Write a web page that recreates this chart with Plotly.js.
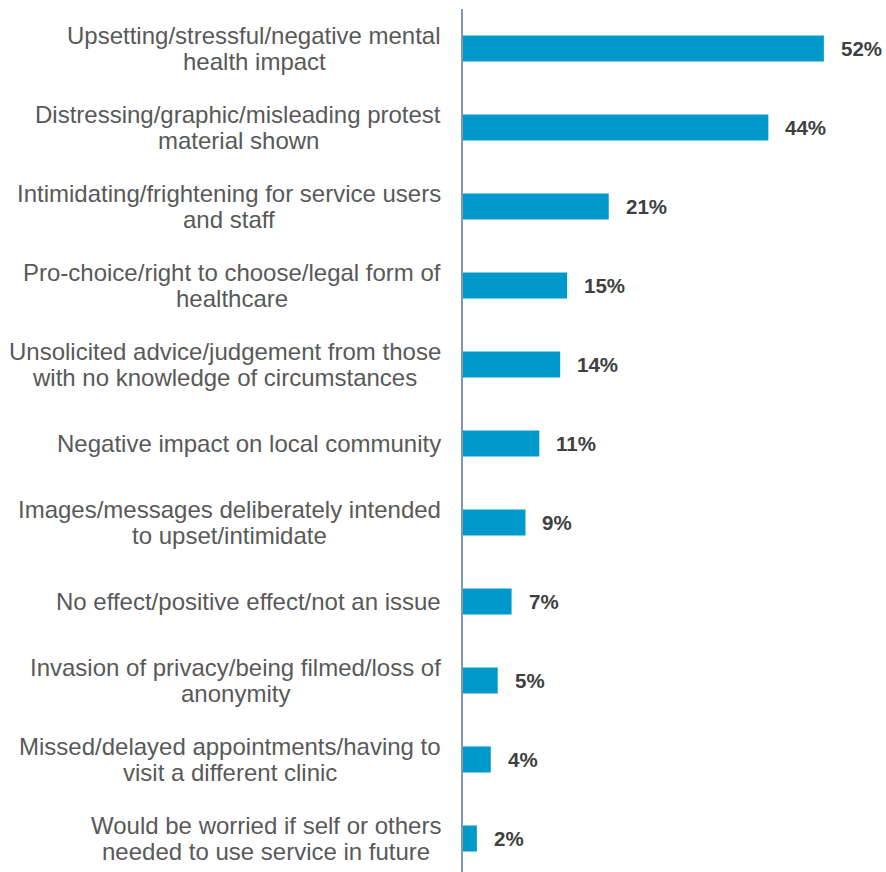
<!DOCTYPE html>
<html>
<head>
<meta charset="utf-8">
<script src="https://cdn.plot.ly/plotly-3.0.1.min.js"></script>
<style>html,body{margin:0;padding:0;background:#fff;}#chart{width:886px;height:872px;}</style>
</head>
<body>
<div id="chart"></div>
<script>
const categories = [
  "Upsetting/stressful/negative mental<br>health impact",
  "Distressing/graphic/misleading protest<br>material shown",
  "Intimidating/frightening for service users<br>and staff",
  "Pro-choice/right to choose/legal form of<br>healthcare",
  "Unsolicited advice/judgement from those<br>with no knowledge of circumstances",
  "Negative impact on local community",
  "Images/messages deliberately intended<br>to upset/intimidate",
  "No effect/positive effect/not an issue",
  "Invasion of privacy/being filmed/loss of<br>anonymity",
  "Missed/delayed appointments/having to<br>visit a different clinic",
  "Would be worried if self or others<br>needed to use service in future"
];
const values = [52, 44, 21, 15, 14, 11, 9, 7, 5, 4, 2];
const valueLabels = values.map(v => v + "%");

const FONT = "Liberation Sans, Arial, sans-serif";
const LABEL_SIZE = 24;
const LINE_GAP = 26;

const ctx = document.createElement("canvas").getContext("2d");
ctx.font = LABEL_SIZE + "px 'Liberation Sans', Arial, sans-serif";

const trace = {
  type: "bar",
  orientation: "h",
  x: values,
  y: categories,
  marker: {color: "#0099CC"},
  width: 0.33,
  hoverinfo: "none"
};

const annotations = [];
categories.forEach((c, i) => {
  const lines = c.split("<br>");
  const maxW = Math.max(...lines.map(l => ctx.measureText(l).width));
  lines.forEach((ln, k) => {
    annotations.push({
      xref: "paper", yref: "y", x: 0, y: c,
      text: ln, showarrow: false, xanchor: "center", yanchor: "middle",
      xshift: -22 - maxW / 2,
      yshift: ((lines.length - 1) / 2 - k) * LINE_GAP,
      font: {family: FONT, size: LABEL_SIZE, color: "#595959"}
    });
  });
  annotations.push({
    xref: "x", yref: "y", x: values[i], y: c,
    text: "<b>" + valueLabels[i] + "</b>", showarrow: false,
    xanchor: "left", yanchor: "middle", xshift: 15,
    font: {family: FONT, size: 20.5, color: "#404040"}
  });
});

const plotW = 886 - 463;
const layout = {
  width: 886, height: 872,
  margin: {l: 463, r: 0, t: 9, b: 0, pad: 0},
  paper_bgcolor: "#ffffff", plot_bgcolor: "#ffffff",
  showlegend: false,
  xaxis: {range: [0, plotW / 6.94], visible: false, fixedrange: true},
  yaxis: {
    type: "category",
    range: [10.424, -0.5],
    showticklabels: false, ticks: "", showgrid: false, zeroline: false,
    showline: true, linecolor: "#8497a8", linewidth: 2, fixedrange: true
  },
  annotations: annotations
};

Plotly.newPlot("chart", [trace], layout, {displayModeBar: false, staticPlot: true});
</script>
</body>
</html>
